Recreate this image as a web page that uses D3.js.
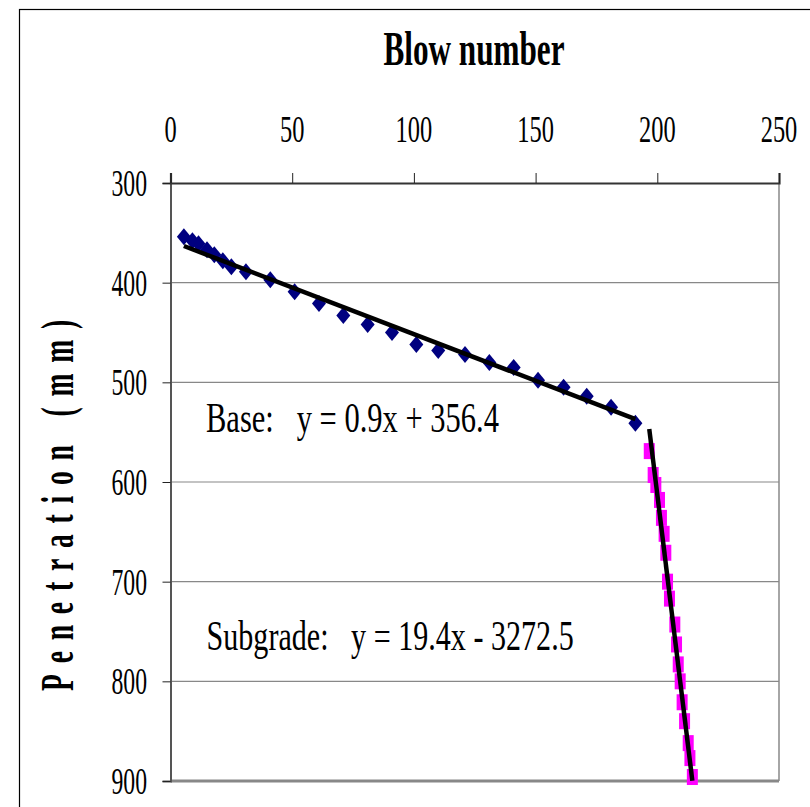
<!DOCTYPE html>
<html>
<head>
<meta charset="utf-8">
<script src="https://cdn.jsdelivr.net/npm/d3@7"></script>
<style>
  body { margin: 0; background: #fff; }
  text { font-family: "Liberation Serif", "Times New Roman", serif; white-space: pre; }
</style>
</head>
<body>
<svg id="chart"></svg>
<script>
// blow counts / penetration
var baseBlows = [5.5, 9, 11.5, 15, 18, 21.5, 25, 31, 41, 51, 61, 71, 81, 91, 101, 110, 121, 131, 141, 151, 161.5, 171, 181, 191];
var basePen   = [354, 358, 361, 367, 372, 378, 384, 389, 397, 409, 421, 433, 442, 450, 462, 468, 472, 480, 485, 498, 505, 514, 525, 541];

var subBlows = [196.7, 198.3, 199.4, 200.9, 201.7, 202.8, 203.5, 204.2, 205.0, 207.2, 207.9, 208.6, 209.4, 210.2, 211.2, 212.7, 213.4, 214.4];
var subPen   = [569, 593, 603, 618, 636, 652, 671, 700, 717, 743, 763, 783, 800, 821, 840, 862, 877, 896];

// trend lines [slope, intercept] as drawn
var baseTrend = [0.936, 358.05];
var subTrend  = [19.94, -3375.4];

var xTicks = [0, 50, 100, 150, 200, 250];
var yTicks = [300, 400, 500, 600, 700, 800, 900];

var baseLabel = "Base:   y = 0.9x + 356.4";
var subLabel  = "Subgrade:   y = 19.4x - 3272.5";

var width = 810, height = 807;
var svg = d3.select("#chart").attr("width", width).attr("height", height);

// outer chart border
svg.append("rect")
  .attr("x", 19.5).attr("y", 9.5)
  .attr("width", width).attr("height", height)
  .attr("fill", "none").attr("stroke", "#000").attr("stroke-width", 1.2);

var x = d3.scaleLinear().domain([0, 250]).range([170.5, 779]);
var y = d3.scaleLinear().domain([300, 900]).range([183, 781]);

// gridlines
svg.append("g").selectAll("line")
  .data(yTicks.filter(d => d > 300))
  .enter().append("line")
  .attr("x1", x(0)).attr("x2", x(250))
  .attr("y1", d => y(d)).attr("y2", d => y(d))
  .attr("stroke", "#888")
  .attr("stroke-width", d => d == 900 ? 3 : 1.2);

// right border of plot area
svg.append("line")
  .attr("x1", x(250)).attr("x2", x(250))
  .attr("y1", y(300)).attr("y2", y(900))
  .attr("stroke", "#888").attr("stroke-width", 1.5);

// axes
var yAxis = d3.axisLeft(y).tickValues(yTicks).tickSize(8).tickFormat("");
var xAxis = d3.axisTop(x).tickValues(xTicks).tickSize(10).tickFormat("");

var yg = svg.append("g").attr("transform", "translate(" + x(0) + ",0)").call(yAxis);
yg.select(".domain").attr("stroke", "#555").attr("stroke-width", 2);
yg.selectAll(".tick line").attr("stroke", "#222");

var xg = svg.append("g").attr("transform", "translate(0," + y(300) + ")").call(xAxis);
xg.select(".domain").attr("stroke", "#333").attr("stroke-width", 2.2);
xg.selectAll(".tick line").attr("stroke", "#222");

// tick labels (condensed serif)
svg.append("g").selectAll("text")
  .data(yTicks).enter().append("text")
  .attr("transform", d => "translate(147," + (y(d) + 13) + ") scale(0.64,1)")
  .attr("text-anchor", "end")
  .attr("font-size", 37)
  .text(d => d);

svg.append("g").selectAll("text")
  .data(xTicks).enter().append("text")
  .attr("transform", d => "translate(" + x(d) + ",141.5) scale(0.66,1)")
  .attr("text-anchor", "middle")
  .attr("font-size", 37)
  .text(d => d);

// axis titles
svg.append("text")
  .attr("transform", "translate(474,65) scale(0.65,1)")
  .attr("text-anchor", "middle")
  .attr("font-size", 48)
  .attr("font-weight", "bold")
  .text("Blow number");

svg.append("text")
  .attr("transform", "translate(73,500) rotate(-90) scale(0.6,1)")
  .attr("text-anchor", "middle")
  .attr("font-size", 46)
  .attr("font-weight", "bold")
  .attr("letter-spacing", 18)
  .text("Penetration (mm)");

// markers
var base = baseBlows.map((b, i) => [b, basePen[i]]);
var sub = subBlows.map((b, i) => [b, subPen[i]]);

svg.append("g").selectAll("path")
  .data(base).enter().append("path")
  .attr("transform", d => "translate(" + x(d[0]) + "," + y(d[1]) + ")")
  .attr("d", "M0,-8.5L7,0L0,8.5L-7,0Z")
  .attr("fill", "#000080");

svg.append("g").selectAll("rect")
  .data(sub).enter().append("rect")
  .attr("x", d => x(d[0]) - 5.5)
  .attr("y", d => y(d[1]) - 8)
  .attr("width", 11).attr("height", 16)
  .attr("fill", "#ff00ff");

// trend lines over each series' blow range
function trendLine(blows, t) {
  var ext = d3.extent(blows);
  return ext.map(b => [b, t[0] * b + t[1]]);
}
var line = d3.line().x(d => x(d[0])).y(d => y(d[1]));

svg.append("path").attr("d", line(trendLine(baseBlows, baseTrend)))
  .attr("stroke", "#000").attr("stroke-width", 4.5).attr("fill", "none");
svg.append("path").attr("d", line(trendLine(subBlows, subTrend)))
  .attr("stroke", "#000").attr("stroke-width", 4.5).attr("fill", "none");

// equations
svg.append("text")
  .attr("transform", "translate(206,431.5) scale(0.71,1)")
  .attr("font-size", 43)
  .text(baseLabel);

svg.append("text")
  .attr("transform", "translate(206.5,650) scale(0.70,1)")
  .attr("font-size", 43)
  .text(subLabel);
</script>
</body>
</html>
